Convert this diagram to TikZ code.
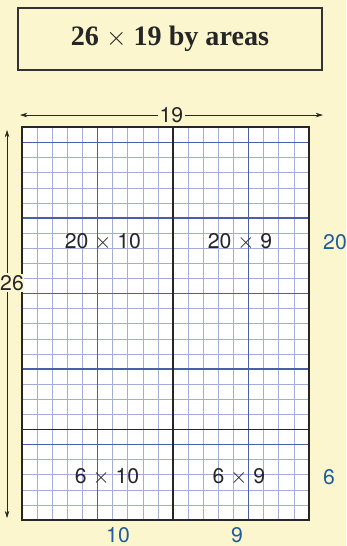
\documentclass[tikz,border=0pt]{standalone}
\usepackage{fontspec}
\setmainfont{Liberation Serif}
\setsansfont{TeX Gyre Heros}
\usetikzlibrary{arrows.meta}

\begin{document}
\begin{tikzpicture}[x=0.5cm,y=0.5cm,>={Stealth[length=2.4mm,width=1.5mm]},
    minorLine/.style={draw=minorBlue,line width=0.5pt},
    majorLine/.style={draw=majorBlue,line width=1.5pt},
    areaLabel/.style={font=\sffamily\fontsize{20}{20}\selectfont,text=black!85},
    sideLabel/.style={font=\sffamily\fontsize{20}{20}\selectfont,text=sideBlue},
    dimLabel/.style={font=\sffamily\fontsize{20}{20}\selectfont,text=black!85,fill=bgYellow,inner sep=1.5pt},
    titleBox/.style={draw=black!80,line width=1.6pt,minimum width=10.07cm,minimum height=2.05cm,
        font=\bfseries\fontsize{26.5}{26.5}\selectfont,text=black!85}]
    % Define grid size
    \def\gridW{19}
    \def\gridH{26}

    \definecolor{bgYellow}{HTML}{FBF6CD}
    \definecolor{minorBlue}{HTML}{A3ADD6}
    \definecolor{majorBlue}{HTML}{4A60A6}
    \definecolor{sideBlue}{HTML}{1F5C9C}

    % Background and page size
    \fill[bgYellow] (-1.457,-1.72) rectangle (21.46,34.44);
    \useasboundingbox (-1.457,-1.72) rectangle (21.46,34.44);

    % Title
    \node[titleBox] (title) at (9.8,31.85) {26 $\times$ 19 by areas};

    % Draw grid
    \fill[white] (0,0) rectangle (\gridW,\gridH);
    \foreach \i in {1,...,18}
        \draw[minorLine] (\i,0) -- (\i,\gridH);
    \foreach \j in {1,...,25}
        \draw[minorLine] (0,\j) -- (\gridW,\j);
    \foreach \i in {5,15}
        \draw[majorLine] (\i,0) -- (\i,\gridH);
    \foreach \j in {5,10,...,25}
        \draw[majorLine] (0,\j) -- (\gridW,\j);

    % Split into areas
    \draw[black!85,line width=1.6pt] (10,0) -- (10,\gridH);
    \draw[black!85,line width=1.6pt] (0,6) -- (\gridW,6);
    \draw[black!85,line width=1.8pt] (0,0) rectangle (\gridW,\gridH);

    % Overall sizes
    \coordinate (wL) at (-0.13,26.82);
    \coordinate (wR) at (19.93,26.82);
    \node[dimLabel] (w19) at (9.9,26.82) {19};
    \draw[->,black!85,line width=0.6pt] (w19) -- (wL);
    \draw[->,black!85,line width=0.6pt] (w19) -- (wR);

    \coordinate (hT) at (-0.99,25.83);
    \coordinate (hB) at (-0.99,0.13);
    \node[dimLabel,inner xsep=0pt] (h26) at (-0.66,15.7) {26};
    \draw[->,black!85,line width=0.6pt] (h26.north -| hT) -- (hT);
    \draw[->,black!85,line width=0.6pt] (h26.south -| hB) -- (hB);

    % Part sizes
    \node[sideLabel,anchor=west] (s20) at (19.7,18.4) {20};
    \node[sideLabel,anchor=west] (s6) at (19.7,2.85) {6};
    \node[sideLabel] (s10) at (6.36,-1.0) {10};
    \node[sideLabel] (s9) at (14.24,-1.0) {9};

    % Areas
    \node[areaLabel] (a2010) at (5.36,18.4) {20 $\times$ 10};
    \node[areaLabel] (a209) at (14.44,18.4) {20 $\times$ 9};
    \node[areaLabel] (a610) at (5.63,2.85) {6 $\times$ 10};
    \node[areaLabel] (a69) at (14.37,2.85) {6 $\times$ 9};

\end{tikzpicture}
\end{document}
